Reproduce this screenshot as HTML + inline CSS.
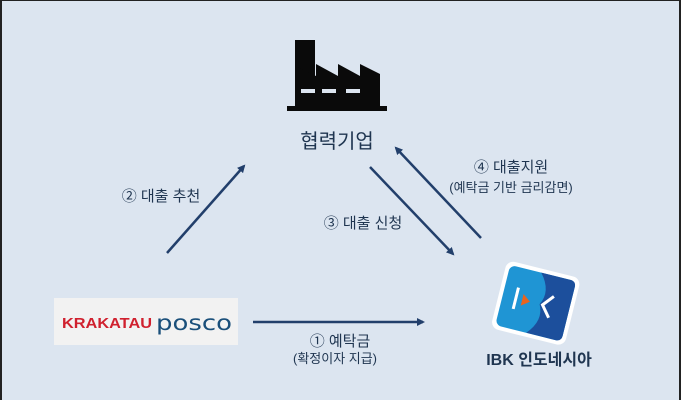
<!DOCTYPE html>
<html><head><meta charset="utf-8"><style>
html,body{margin:0;padding:0}
body{width:681px;height:400px;overflow:hidden;background:#dce5f0;font-family:"Liberation Sans","Noto Sans CJK KR",sans-serif;}
.wrap{position:absolute;left:0;top:0;width:677px;height:399px;border-left:2px solid #222;border-right:2px solid #222;border-top:1px solid #222;}
.t{position:absolute;color:#1f3550;white-space:nowrap;text-align:center;}
</style></head><body>
<div class="wrap"></div>
<svg width="681" height="400" style="position:absolute;left:0;top:0">
<defs><marker id="a" markerWidth="8" markerHeight="8" refX="6" refY="4" orient="auto" markerUnits="userSpaceOnUse"><path d="M0,0 L8,4 L0,8 Z" fill="#223f6b"/></marker></defs>
<g fill="#0a0a0a">
<rect x="295" y="40" width="20" height="42"/>
<path d="M295,82 L295,106 L380,106 L380,74 L360,64 L360,76 L338,64 L338,76 L316,64 L316,76 L295,66 Z"/>
<rect x="287" y="106" width="100" height="5"/>
</g>
<g fill="#dce5f0"><rect x="301" y="89" width="14" height="4"/><rect x="322" y="89" width="14" height="4"/><rect x="346" y="89" width="14" height="4"/></g>
<g stroke="#223f6b" stroke-width="2.5" fill="none">
<line x1="167" y1="253" x2="244" y2="166" marker-end="url(#a)"/>
<line x1="370" y1="167" x2="453" y2="254" marker-end="url(#a)"/>
<line x1="481" y1="238" x2="396" y2="148" marker-end="url(#a)"/>
<line x1="253" y1="322" x2="423" y2="322" marker-end="url(#a)"/>
</g>
<rect x="54" y="298" width="184" height="47" fill="#f2f2f2"/>
<text x="62" y="328" font-family="Liberation Sans" font-weight="bold" font-size="15" fill="#d0202e" textLength="90" lengthAdjust="spacingAndGlyphs">KRAKATAU</text>
<text x="156" y="330" font-family="DejaVu Sans" font-size="21" fill="#1a4f7a" textLength="76" lengthAdjust="spacingAndGlyphs">posco</text>
<g transform="rotate(14 535 302)">
<rect x="498" y="268" width="76" height="70" rx="8" fill="#fff"/>
<rect x="502" y="272" width="68" height="62" rx="6" fill="#1f95d4"/>
<path d="M534,272 L564,272 Q570,272 570,278 L570,328 Q570,334 564,334 L534,334 Q548,318 540,303 Q548,288 534,272 Z" fill="#1c4f9c"/>
<rect x="514" y="292" width="3" height="22" fill="#fff"/>
<path d="M522,297 L530,303 L522,309 Z" fill="#e8641e"/>
<path d="M552,292 L543,303 L552,314" stroke="#fff" stroke-width="3" fill="none"/>
</g>
</svg>
<div class="t" style="left:287px;top:125px;width:100px;font-size:20px;">협력기업</div>
<div class="t" style="left:116px;top:185px;width:90px;font-size:15px;">② 대출 추천</div>
<div class="t" style="left:318px;top:212px;width:90px;font-size:15px;">③ 대출 신청</div>
<div class="t" style="left:460px;top:156px;width:102px;font-size:15px;">④ 대출지원</div>
<div class="t" style="left:438px;top:177px;width:146px;font-size:13px;">(예탁금 기반 금리감면)</div>
<div class="t" style="left:288px;top:330px;width:104px;font-size:15px;">① 예탁금</div>
<div class="t" style="left:278px;top:348px;width:114px;font-size:13px;">(확정이자 지급)</div>
<div class="t" style="left:476px;top:346px;width:126px;font-size:16px;font-weight:bold;">IBK 인도네시아</div>
</body></html>
